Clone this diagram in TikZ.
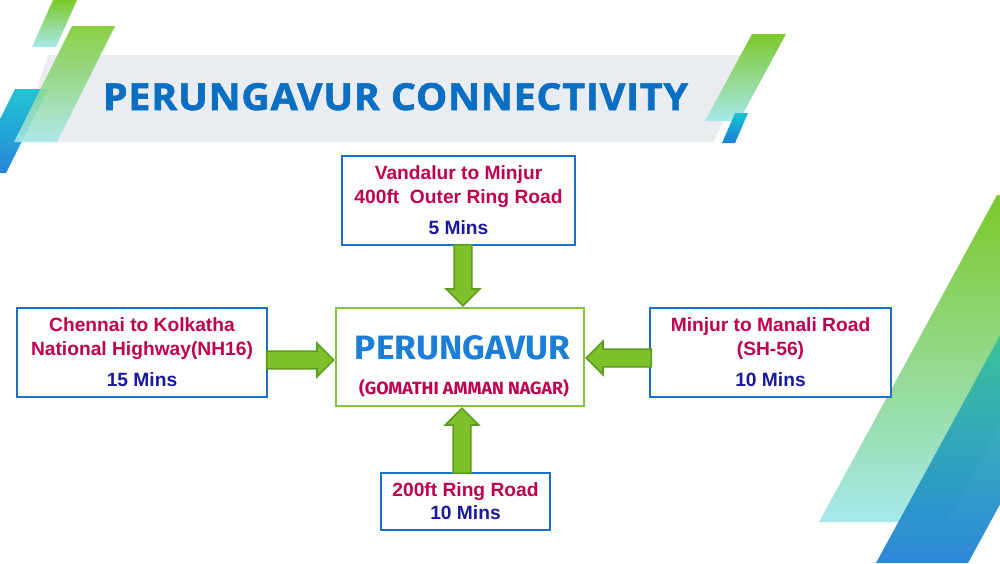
\documentclass[tikz,border=0pt]{standalone}
\usepackage{fontspec}
\setmainfont{Liberation Sans}
\newfontfamily\titlefont[LetterSpace=2,BoldFeatures={FakeBold=1.6}]{Open Sans}
\newfontfamily\ctrfont{Fira Sans}
\usetikzlibrary{shapes.arrows,calc}
\definecolor{bandgray}{HTML}{E9ECF1}
\definecolor{boxblue}{HTML}{1A72C6}
\definecolor{ctrgreen}{HTML}{82C341}
\definecolor{roadred}{HTML}{C0004E}
\definecolor{minsblue}{HTML}{1A1A9E}
\definecolor{titleblue}{HTML}{0A6FC2}
\definecolor{ctrblue}{HTML}{1C7ED6}
\definecolor{arrowfill}{HTML}{7DC22B}
\definecolor{arrowline}{HTML}{5C9C1E}
\definecolor{stripgreen}{HTML}{7CC92A}
\definecolor{stripcyan}{HTML}{A8E8EC}
\definecolor{stripteal}{HTML}{18C2D2}
\definecolor{stripblue}{HTML}{1B7FD6}
\definecolor{stripteal2}{HTML}{36C29E}
\tikzset{
  roadbox/.style={draw=boxblue, line width=1pt, fill=white, rectangle, inner sep=0pt, align=center,
    font=\fontsize{9.6pt}{12pt}\selectfont\bfseries},
  ctrbox/.style={draw=ctrgreen, line width=1.1pt, fill=white, rectangle, inner sep=0pt},
  garrow/.style={single arrow, draw=arrowline, fill=arrowfill, line width=0.8pt,
    inner xsep=0pt, inner ysep=4pt, minimum width=0pt, single arrow head extend=4pt,
    single arrow head indent=0pt},
}
\newcommand{\mins}[1]{\textcolor{minsblue}{#1}}
\begin{document}
\begin{tikzpicture}[x=0.5pt,y=-0.5pt]
\useasboundingbox (0,0) rectangle (1000,563);
\fill[white] (0,0) rectangle (1000,563);
\begin{scope}
\clip (0,0) rectangle (1000,563);
% title band
\fill[bandgray] (48,55) -- (757,55) -- (713,142) -- (20,142) -- cycle;
% left stripes
\shade[top color=stripgreen, bottom color=stripcyan] (53,0) -- (77,0) -- (56,47) -- (32,47) -- cycle;
\shade[top color=stripteal, bottom color=stripblue, opacity=0.95] (15,89) -- (48,89) -- (6,173) -- (0,173) -- (0,119) -- cycle;
\shade[top color=stripgreen, bottom color=stripcyan, opacity=0.88] (72,26) -- (115,26) -- (57,142) -- (14,142) -- cycle;
% right top stripes
\shade[top color=stripgreen, bottom color=stripcyan] (752,34) -- (786,34) -- (739,121) -- (705,121) -- cycle;
\shade[top color=stripteal, bottom color=stripblue] (735,113) -- (748,113) -- (735,143) -- (722,143) -- cycle;
% right bottom stripes
\shade[top color=stripgreen, bottom color=stripcyan] (997,195) -- (1125,195) -- (947,522) -- (819,522) -- cycle;
\shade[top color=stripteal2, bottom color=stripblue, opacity=0.92] (1003,330) -- (1095,330) -- (968,563) -- (876,563) -- cycle;
\end{scope}
% title
\node[text=titleblue, inner sep=0pt, anchor=base] (title) at (395.5,110)
  {\resizebox{292.5pt}{13.5pt}{\titlefont\bfseries PERUNGAVUR CONNECTIVITY}};
% boxes
\node[roadbox, minimum width=116.5pt, minimum height=44.5pt] (top) at (458.5,200.5)
  {\textcolor{roadred}{Vandalur to Minjur}\\\textcolor{roadred}{400ft\ \ Outer Ring Road}\\[3.5pt]\mins{5 Mins}};
\node[roadbox, minimum width=125pt, minimum height=44.5pt] (left) at (142,352.5)
  {\textcolor{roadred}{Chennai to Kolkatha}\\\textcolor{roadred}{National Highway(NH16)}\\[3.5pt]\mins{15 Mins}};
\node[roadbox, minimum width=120.5pt, minimum height=44.5pt] (right) at (770.5,352.5)
  {\textcolor{roadred}{Minjur to Manali Road}\\\textcolor{roadred}{(SH-56)}\\[3.5pt]\mins{10 Mins}};
\node[roadbox, minimum width=84.5pt, minimum height=28.5pt] (bottom) at (465.5,501.5)
  {\textcolor{roadred}{200ft Ring Road}\\[-0.5pt]\mins{10 Mins}};
\node[ctrbox, minimum width=124pt, minimum height=49pt] (ctr) at (460,357) {};
\node[text=ctrblue, inner sep=0pt, anchor=base] (ctrname) at (462.5,359)
  {\resizebox{107.5pt}{12pt}{\ctrfont\bfseries PERUNGAVUR}};
\node[text=roadred, inner sep=0pt, anchor=base] (ctrsub) at (464,394)
  {\resizebox{105pt}{7.6pt}{\ctrfont\bfseries (GOMATHI AMMAN NAGAR)}};
% arrows
\node[garrow, minimum height=30.5pt, rotate=-90, anchor=tip] (atop) at ([xshift=1.5pt]ctr.north) {};
\node[garrow, minimum height=33.5pt, rotate=0, anchor=tip] (aleft) at ([yshift=-1.5pt]ctr.west) {};
\node[garrow, minimum height=32.5pt, rotate=180, anchor=tip] (aright) at ([yshift=-0.5pt]ctr.east) {};
\node[garrow, minimum height=32.5pt, rotate=90, anchor=tip] (abot) at ([xshift=1pt]ctr.south) {};
\end{tikzpicture}
\end{document}
